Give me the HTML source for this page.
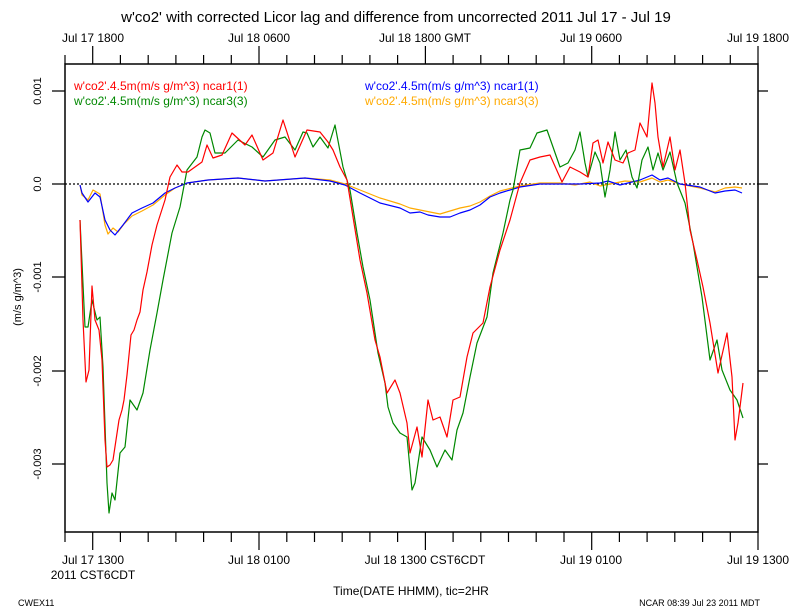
<!DOCTYPE html>
<html><head><style>body{margin:0;background:#fff}svg{display:block}text{font-family:"Liberation Sans",sans-serif}</style></head><body>
<svg width="792" height="612" viewBox="0 0 792 612" xmlns="http://www.w3.org/2000/svg">
<rect width="792" height="612" fill="#fff"/>
<text x="396" y="22" font-size="15" text-anchor="middle">w'co2' with corrected Licor lag and difference from uncorrected 2011 Jul 17 - Jul 19</text>
<g stroke="#000" stroke-width="1.5" fill="none">
<rect x="65" y="64" width="693" height="468"/>
</g>
<path stroke="#000" stroke-width="1.2" fill="none" d="
M65,532V542 M92.7,532V550 M120.4,532V542 M148.2,532V542 M175.9,532V542 M203.6,532V542 M231.3,532V542 M259,532V550 M286.8,532V542 M314.5,532V542 M342.2,532V542 M369.9,532V542 M397.6,532V542 M425.4,532V550 M453.1,532V542 M480.8,532V542 M508.5,532V542 M536.2,532V542 M564,532V542 M591.7,532V550 M619.4,532V542 M647.1,532V542 M674.8,532V542 M702.6,532V542 M730.3,532V542 M758,532V550
M65,64V55 M92.7,64V46 M120.4,64V55 M148.2,64V55 M175.9,64V55 M203.6,64V55 M231.3,64V55 M259,64V46 M286.8,64V55 M314.5,64V55 M342.2,64V55 M369.9,64V55 M397.6,64V55 M425.4,64V46 M453.1,64V55 M480.8,64V55 M508.5,64V55 M536.2,64V55 M564,64V55 M591.7,64V46 M619.4,64V55 M647.1,64V55 M674.8,64V55 M702.6,64V55 M730.3,64V55 M758,64V46
M52,91H65 M52,184H65 M52,277H65 M52,371H65 M52,464H65
M758,91H768 M758,184H768 M758,277H768 M758,371H768 M758,464H768"/>
<g font-size="12" text-anchor="middle">
<text x="93" y="42">Jul 17 1800</text><text x="259" y="42">Jul 18 0600</text><text x="425" y="42">Jul 18 1800 GMT</text><text x="591" y="42">Jul 19 0600</text><text x="758" y="42">Jul 19 1800</text>
<text x="93" y="564">Jul 17 1300</text><text x="259" y="564">Jul 18 0100</text><text x="425" y="564">Jul 18 1300 CST6CDT</text><text x="591" y="564">Jul 19 0100</text><text x="758" y="564">Jul 19 1300</text>
<text x="93" y="579">2011 CST6CDT</text>
<text x="411" y="595">Time(DATE HHMM), tic=2HR</text>
</g>
<g font-size="11" text-anchor="middle">
<text transform="translate(41,91) rotate(-90)">0.001</text>
<text transform="translate(41,184) rotate(-90)">0.0</text>
<text transform="translate(41,277) rotate(-90)">-0.001</text>
<text transform="translate(41,371) rotate(-90)">-0.002</text>
<text transform="translate(41,464) rotate(-90)">-0.003</text>
<text transform="translate(21,297) rotate(-90)">(m/s g/m^3)</text>
</g>
<text x="18" y="606" font-size="9">CWEX11</text>
<text x="760" y="606" font-size="9" text-anchor="end">NCAR 08:39 Jul 23 2011 MDT</text>
<g font-size="12">
<text x="74" y="90" fill="#f00">w'co2'.4.5m(m/s g/m^3) ncar1(1)</text>
<text x="74" y="105" fill="#080">w'co2'.4.5m(m/s g/m^3) ncar3(3)</text>
<text x="365" y="90" fill="#00f">w'co2'.4.5m(m/s g/m^3) ncar1(1)</text>
<text x="365" y="105" fill="#fa0">w'co2'.4.5m(m/s g/m^3) ncar3(3)</text>
</g>
<line x1="65" y1="184" x2="758" y2="184" stroke="#000" stroke-width="1.2" stroke-dasharray="2,2"/>
<g fill="none" stroke-width="1.2" stroke-linejoin="round">
<polyline stroke="#fa0" points="80,185 82,195 88,200 93,190 100,194 105,225 108,234 113,228 118,232 124,224 132,216 142,211 153,205 165,195 175,188 187,183 208,180 238,178 265,181 305,178 330,180 345,184 360,190 380,198 400,204 410,208 420,210 430,212 440,214 450,211 460,208 470,206 480,202 490,196 500,191 520,186 540,183 560,183 575,185 590,182 600,186 615,183 625,181 640,182 652,178 660,182 668,180 680,184 700,188 715,192 725,188 735,187 742,188"/>
<polyline stroke="#00f" points="80,185 82,193 88,202 95,193 100,197 105,220 110,230 115,235 123,225 132,213 142,208 153,203 165,193 175,188 187,183 208,180 238,178 265,181 305,178 330,181 345,185 360,193 380,203 400,208 410,213 420,212 428,215 440,217 450,217 460,213 470,210 480,205 490,197 500,193 520,187 540,184 560,184 580,184 600,183 608,181 620,185 640,180 652,175 660,180 668,178 680,184 700,187 715,193 725,191 735,190 742,193"/>
<polyline stroke="#080" points="80,220 85,327 88,327 92,300 97,320 100,317 103,367 107,483 109,513 112,493 115,500 120,453 125,447 130,400 137,410 143,393 150,350 157,313 163,280 172,233 180,207 187,170 197,157 202,137 205,130 210,133 215,153 225,153 238,140 252,147 263,157 275,140 285,137 295,150 303,132 307,133 313,147 320,137 328,148 335,125 343,167 350,190 357,233 363,267 370,300 378,353 385,383 388,407 393,423 400,433 407,437 412,490 415,483 422,437 430,450 437,467 445,450 452,460 457,430 463,413 470,377 477,343 487,317 493,273 503,233 510,200 513,190 520,150 530,148 537,133 547,130 553,147 560,167 568,163 575,150 580,132 585,163 588,177 595,152 600,163 605,197 610,170 615,132 620,160 626,150 632,177 637,188 642,160 648,147 653,170 658,153 663,170 670,152 677,183 685,203 693,243 702,297 710,360 717,340 722,370 730,390 737,400 743,418"/>
<polyline stroke="#f00" points="80,220 83,320 86,382 89,370 92,286 95,320 99,330 102,360 105,440 107,467 110,465 113,460 116,440 119,420 122,410 124,400 127,375 131,335 134,330 137,320 140,312 143,290 147,272 152,245 157,225 165,200 170,177 177,165 182,172 188,172 202,162 207,145 213,158 222,155 232,133 245,145 252,135 263,160 273,153 283,120 295,157 307,130 320,132 328,142 333,150 340,167 347,180 353,217 360,260 367,293 375,340 380,357 387,393 395,380 400,393 407,423 410,453 417,427 422,457 428,400 433,420 440,417 447,437 453,400 460,397 467,357 473,333 483,323 490,287 500,250 510,220 520,183 530,160 540,157 550,155 562,182 570,167 580,172 588,177 593,143 598,140 603,163 608,142 615,160 623,163 628,153 635,150 640,123 647,137 652,83 655,103 658,137 663,167 670,137 675,170 680,150 685,183 690,230 697,260 703,287 710,323 718,373 727,333 732,377 735,440 738,423 743,383"/>
</g>
</svg>
</body></html>
